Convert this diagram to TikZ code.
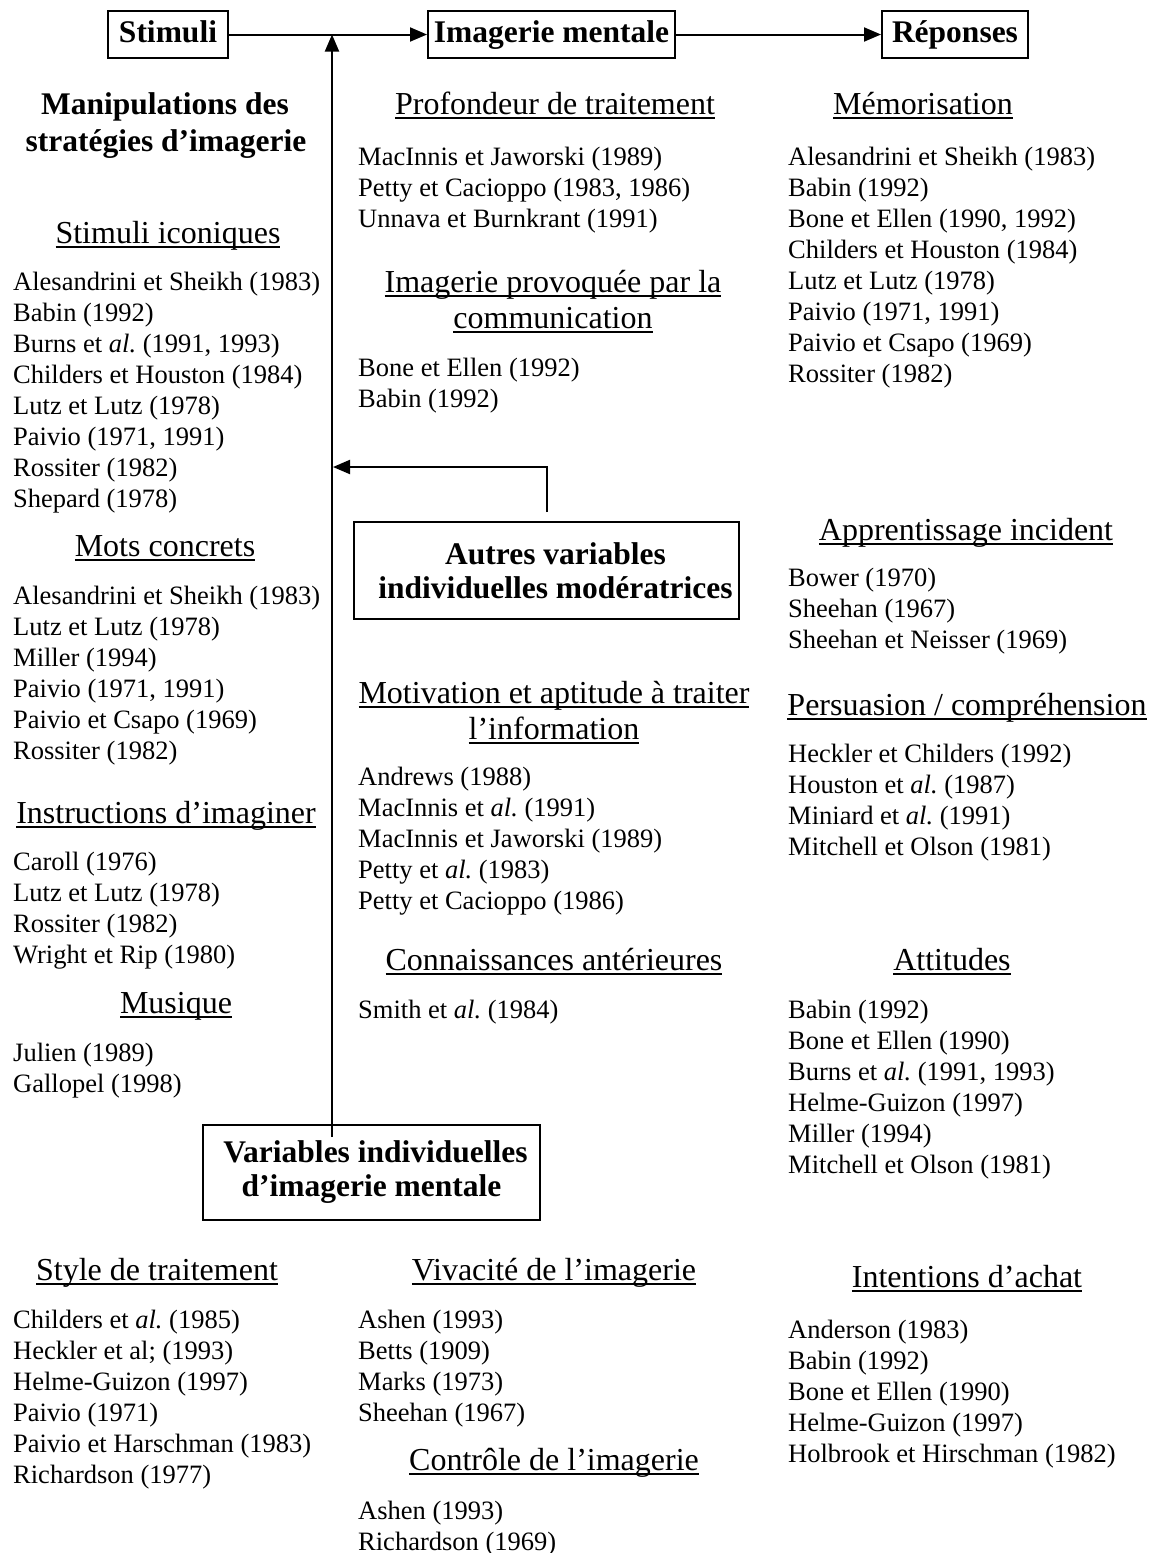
\documentclass[tikz,border=0pt]{standalone}
\usepackage{fontspec}
\setmainfont{Liberation Serif}
\usetikzlibrary{arrows.meta}

% underline at a fixed depth below the baseline
\newcommand\ulhead[1]{\setbox0=\hbox{#1}\rlap{\rule[-0.15em]{\wd0}{0.06em}}\box0}

% a list of references, one node per line, 31 units apart
\newcommand\reflist[4]{%
  \foreach \reftxt [count=\k from 0] in {#4}{%
    \node[item] (#1-\k) at (#2,{#3+31*\k}) {\reftxt};}}

\begin{document}
\begin{tikzpicture}[x=1pt,y=-1pt,
  item/.style={anchor=base west, inner sep=0pt, font=\fontsize{26.5}{31}\selectfont},
  head/.style={anchor=base, inner sep=0pt, font=\fontsize{32}{36}\selectfont},
  bhead/.style={anchor=base, inner sep=0pt, font=\bfseries\fontsize{31.5}{36}\selectfont},
  box/.style={draw, line width=2pt, inner sep=0pt, align=center,
    font=\bfseries\fontsize{31.5}{34}\selectfont},
  topbox/.style={box, minimum height=47pt, text height=22pt, text depth=7pt},
  arr/.style={line width=2pt, -{Triangle[length=17pt,width=14pt]}}]

\fill[white] (0,0) rectangle (1156,1553);
\useasboundingbox (0,0) rectangle (1156,1553);

% main chain
\node[topbox, minimum width=120pt] (stim) at (168,34.5) {Stimuli};
\node[topbox, minimum width=247pt] (imag) at (551.5,34.5) {Imagerie mentale};
\node[topbox, minimum width=146pt] (rep) at (955,34.5) {Réponses};
\draw[arr] (stim.east) -- (imag.west);
\draw[arr] (imag.east) -- (rep.west);

% moderating boxes
\node[box, minimum width=385pt, minimum height=97pt] (autres) at (546.5,570.5)
  {\hspace*{18pt}Autres variables\\ \hspace*{18pt}individuelles modératrices};
\node[box, minimum width=337pt, minimum height=95pt] (vbox) at (371.5,1172.5)
  {\hspace*{8pt}Variables individuelles\\ d’imagerie mentale};

\coordinate (junction) at (332,34.5);
\coordinate (modjoin) at (333,467);
\draw[arr] ([yshift=-13pt]vbox.north -| junction) -- (junction);
\draw[arr] ([yshift=9pt]autres.north) |- (modjoin);

% left column
\node[bhead] (manip1) at (165,114) {Manipulations des};
\node[bhead] (manip2) at (166,151) {stratégies d’imagerie};

\node[head] (h-icon) at (168,243) {\ulhead{Stimuli iconiques}};
\reflist{icon}{13}{290}{{Alesandrini et Sheikh (1983)},{Babin (1992)},{Burns et \textit{al.}\ (1991, 1993)},{Childers et Houston (1984)},{Lutz et Lutz (1978)},{Paivio (1971, 1991)},{Rossiter (1982)},{Shepard (1978)}}

\node[head] (h-mots) at (165,556) {\ulhead{Mots concrets}};
\reflist{mots}{13}{604}{{Alesandrini et Sheikh (1983)},{Lutz et Lutz (1978)},{Miller (1994)},{Paivio (1971, 1991)},{Paivio et Csapo (1969)},{Rossiter (1982)}}

\node[head] (h-instr) at (166,823) {\ulhead{Instructions d’imaginer}};
\reflist{instr}{13}{870}{{Caroll (1976)},{Lutz et Lutz (1978)},{Rossiter (1982)},{Wright et Rip (1980)}}

\node[head] (h-mus) at (176,1013) {\ulhead{Musique}};
\reflist{mus}{13}{1061}{{Julien (1989)},{Gallopel (1998)}}

\node[head] (h-style) at (157,1280) {\ulhead{Style de traitement}};
\reflist{style}{13}{1328}{{Childers et \textit{al.}\ (1985)},{Heckler et al; (1993)},{Helme-Guizon (1997)},{Paivio (1971)},{Paivio et Harschman (1983)},{Richardson (1977)}}

% middle column
\node[head] (h-prof) at (555,114) {\ulhead{Profondeur de traitement}};
\reflist{prof}{358}{165}{{MacInnis et Jaworski (1989)},{Petty et Cacioppo (1983, 1986)},{Unnava et Burnkrant (1991)}}

\node[head] (h-prov1) at (553,292) {\ulhead{Imagerie provoquée par la}};
\node[head] (h-prov2) at (553,328) {\ulhead{communication}};
\reflist{prov}{358}{376}{{Bone et Ellen (1992)},{Babin (1992)}}

\node[head] (h-motiv1) at (554,703) {\ulhead{Motivation et aptitude à traiter}};
\node[head] (h-motiv2) at (554,739) {\ulhead{l’information}};
\reflist{motiv}{358}{785}{{Andrews (1988)},{MacInnis et \textit{al.}\ (1991)},{MacInnis et Jaworski (1989)},{Petty et \textit{al.}\ (1983)},{Petty et Cacioppo (1986)}}

\node[head] (h-conn) at (554,970) {\ulhead{Connaissances antérieures}};
\reflist{conn}{358}{1018}{{Smith et \textit{al.}\ (1984)}}

\node[head] (h-viv) at (554,1280) {\ulhead{Vivacité de l’imagerie}};
\reflist{viv}{358}{1328}{{Ashen (1993)},{Betts (1909)},{Marks (1973)},{Sheehan (1967)}}

\node[head] (h-ctrl) at (554,1470) {\ulhead{Contrôle de l’imagerie}};
\reflist{ctrl}{358}{1519}{{Ashen (1993)},{Richardson (1969)}}

% right column
\node[head] (h-mem) at (923,114) {\ulhead{Mémorisation}};
\reflist{mem}{788}{165}{{Alesandrini et Sheikh (1983)},{Babin (1992)},{Bone et Ellen (1990, 1992)},{Childers et Houston (1984)},{Lutz et Lutz (1978)},{Paivio (1971, 1991)},{Paivio et Csapo (1969)},{Rossiter (1982)}}

\node[head] (h-app) at (966,540) {\ulhead{Apprentissage incident}};
\reflist{app}{788}{586}{{Bower (1970)},{Sheehan (1967)},{Sheehan et Neisser (1969)}}

\node[head] (h-pers) at (967,715) {\ulhead{Persuasion / compréhension}};
\reflist{pers}{788}{762}{{Heckler et Childers (1992)},{Houston et \textit{al.}\ (1987)},{Miniard et \textit{al.}\ (1991)},{Mitchell et Olson (1981)}}

\node[head] (h-att) at (952,970) {\ulhead{Attitudes}};
\reflist{att}{788}{1018}{{Babin (1992)},{Bone et Ellen (1990)},{Burns et \textit{al.}\ (1991, 1993)},{Helme-Guizon (1997)},{Miller (1994)},{Mitchell et Olson (1981)}}

\node[head] (h-int) at (967,1287) {\ulhead{Intentions d’achat}};
\reflist{int}{788}{1338}{{Anderson (1983)},{Babin (1992)},{Bone et Ellen (1990)},{Helme-Guizon (1997)},{Holbrook et Hirschman (1982)}}

\end{tikzpicture}
\end{document}
